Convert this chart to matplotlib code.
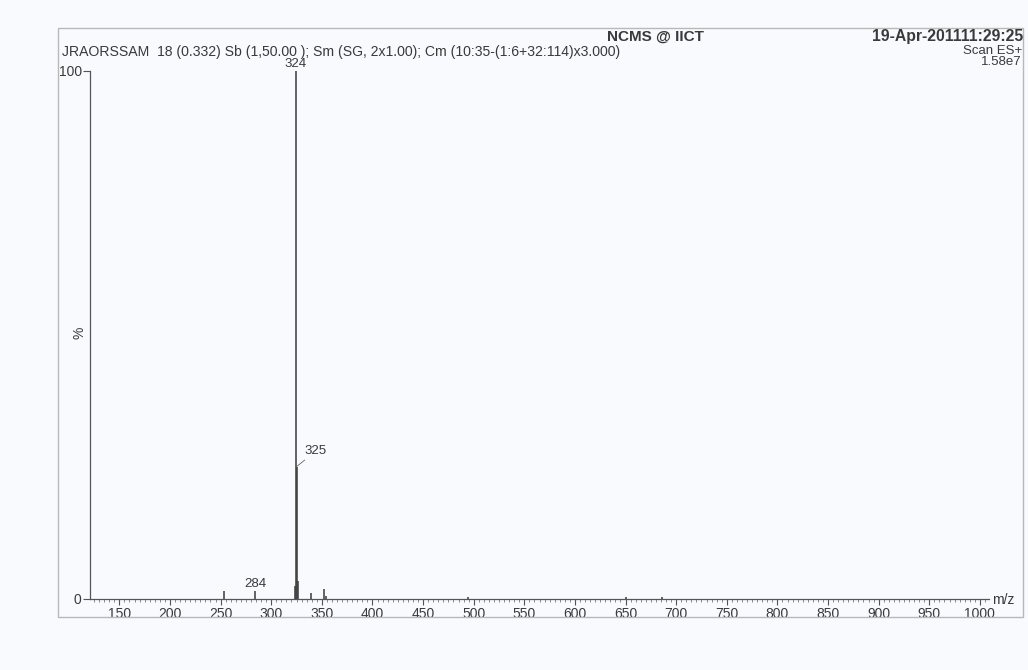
import matplotlib
matplotlib.use("Agg")
import matplotlib.pyplot as plt
from matplotlib.patches import Rectangle
from matplotlib.ticker import MultipleLocator

# spectrum peaks (m/z, relative intensity %)
mz = [253, 284, 323, 324, 325, 326, 339, 352, 354, 494, 650, 686]
intensity = [1.5, 1.5, 2.5, 100, 25, 3.5, 1.1, 1.9, 0.5, 0.4, 0.3, 0.3]

# labelled peaks
label_mz = [324, 284]
label_int = [100, 1.5]

header = "JRAORSSAM  18 (0.332) Sb (1,50.00 ); Sm (SG, 2x1.00); Cm (10:35-(1:6+32:114)x3.000)"
title = "NCMS @ IICT"
stamp = "19-Apr-201111:29:25"
scan_type = "Scan ES+"
base_peak = "1.58e7"

W, H = 1028, 670
plt.rcParams['font.family'] = ['Liberation Sans', 'DejaVu Sans']
ink = '#3a3a3a'


def fx(px):
    return px / W


def fy(py):
    return 1 - py / H


fig = plt.figure(figsize=(W / 100, H / 100), dpi=100)
fig.patch.set_facecolor('#f8fafd')

# outer print frame
fig.patches.append(Rectangle((fx(58), fy(617)), fx(1023) - fx(58), fy(28) - fy(617),
                             transform=fig.transFigure, fill=False,
                             edgecolor='#b8b8b8', linewidth=1.0))

ax = fig.add_axes([fx(90), fy(599), fx(989) - fx(90), fy(71) - fy(599)])
ax.set_facecolor('none')
ax.vlines(mz, 0, intensity, color=ink, linewidth=1.1)

ax.set_xlim(121, 1009)
ax.set_ylim(0, 100)
for s in ['top', 'right']:
    ax.spines[s].set_visible(False)
for s in ['left', 'bottom']:
    ax.spines[s].set_color('#555555')
    ax.spines[s].set_linewidth(0.9)

ax.xaxis.set_major_locator(MultipleLocator(50))
ax.xaxis.set_minor_locator(MultipleLocator(5))
ax.set_xticks(range(150, 1001, 50))
ax.set_yticks([0, 100])
ax.tick_params(axis='x', which='major', length=4, width=0.8, color='#555555',
               labelsize=10, labelcolor=ink, pad=2)
ax.tick_params(axis='x', which='minor', length=2, width=0.6, color='#777777')
ax.tick_params(axis='y', length=5, width=0.8, color='#555555', labelsize=10,
               labelcolor=ink, pad=1)

# peak labels
for m, v in zip(label_mz, label_int):
    ax.annotate(str(m), (m, v), xytext=(0, 1), textcoords='offset points',
                ha='center', va='bottom', fontsize=9.5, color=ink)
ax.annotate("325", (324.6, 25), xytext=(6, 7), textcoords='offset points',
            ha='left', va='bottom', fontsize=9.5, color=ink,
            arrowprops=dict(arrowstyle='-', color='#666666', linewidth=0.6,
                            shrinkA=0, shrinkB=0))

fig.text(fx(1003), fy(600), "m/z", ha='center', va='center', fontsize=10, color=ink)
fig.text(fx(80), fy(333), "%", ha='center', va='center', rotation=90,
         fontsize=10, color=ink)

# header block
fig.text(fx(62), fy(52), header, ha='left', va='center', fontsize=10.1, color=ink)
fig.text(fx(655), fy(37), title, ha='center', va='center', fontsize=11,
         fontweight='bold', color=ink)
fig.text(fx(1023), fy(37), stamp, ha='right', va='center', fontsize=11.3,
         fontweight='bold', color=ink)
fig.text(fx(1022), fy(51), scan_type, ha='right', va='center', fontsize=9.5, color=ink)
fig.text(fx(1022), fy(62), base_peak, ha='right', va='center', fontsize=9.5, color=ink)

fig.savefig("out.png", dpi=100, facecolor=fig.get_facecolor())
